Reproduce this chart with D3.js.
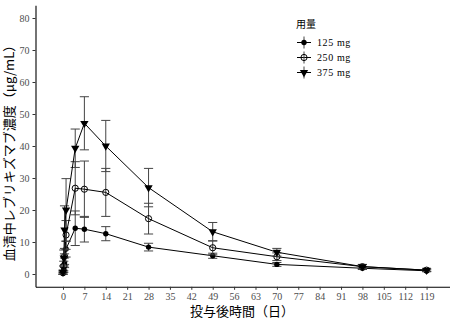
<!DOCTYPE html>
<html><head><meta charset="utf-8">
<script src="https://cdn.jsdelivr.net/npm/d3@7"></script>
<style>
body{margin:0;background:#fff;}
svg{display:block;}
.tick text{font-family:"Liberation Serif","DejaVu Serif",serif;font-size:10px;fill:#4d4d4d;}
</style></head>
<body><svg id="c" width="452" height="323"></svg>
<script>
const times = [0, 0.25, 0.5, 1, 4, 7, 14, 28, 49, 70, 98, 119];
const mean125 = [0.2, 1.5, 3.5, 7.8, 14.3, 14.0, 12.6, 8.4, 5.7, 3.0, 1.8, 1.0];
const sd125   = [0.3, 1.0, 1.5, 2.5, 5.4, 4.0, 2.2, 1.2, 0.8, 0.6, 0.4, 0.3];
const mean250 = [0.4, 2.5, 5.5, 12.2, 26.8, 26.5, 25.5, 17.3, 8.2, 5.4, 2.3, 1.2];
const sd250   = [0.5, 1.5, 2.5, 4.5, 8.3, 8.8, 7.5, 4.8, 2.2, 1.2, 0.6, 0.4];
const mean375 = [0.6, 5.0, 13.8, 20.0, 39.3, 47.1, 40.0, 27.0, 13.2, 6.8, 2.3, 1.2];
const sd375   = [0.6, 2.5, 7.5, 9.8, 6.0, 8.3, 8.0, 6.0, 2.9, 1.2, 0.7, 0.4];
const doseLabels = ["125 mg", "250 mg", "375 mg"];
const xTicks = d3.range(0, 120, 7);
const yTicks = [0, 10, 20, 30, 40, 50, 60, 70, 80];
const xTitle = "投与後時間（日）";
const yTitle = "血清中レブリキズマブ濃度（μg/mL）";
const legendTitle = "用量";

const svg = d3.select("#c");
const x = d3.scaleLinear().domain([-9, 126.5]).range([35.5, 449.5]);
const y = d3.scaleLinear().domain([-4, 84]).range([286.8, 5.2]);

const series = [
  {label: doseLabels[0], mean: mean125, sd: sd125, shape: "dot"},
  {label: doseLabels[1], mean: mean250, sd: sd250, shape: "open"},
  {label: doseLabels[2], mean: mean375, sd: sd375, shape: "tri"}
];

// axes
const xa = svg.append("g").attr("transform", `translate(0,${y.range()[0]})`)
  .call(d3.axisBottom(x).tickValues(xTicks).tickSize(3).tickPadding(3).tickSizeOuter(0));
const ya = svg.append("g").attr("transform", `translate(${x.range()[0]},0)`)
  .call(d3.axisLeft(y).tickValues(yTicks).tickSize(3).tickPadding(3).tickSizeOuter(0));
[xa, ya].forEach(a => {
  a.select(".domain").attr("stroke", "#000").attr("stroke-width", 1.1);
  a.selectAll(".tick line").attr("stroke", "#333");
});

const tri = d3.symbol().type(d3.symbolTriangle).size(30);
function marker(g, shape, cx, cy) {
  if (shape === "dot") g.append("circle").attr("cx", cx).attr("cy", cy).attr("r", 2.7).attr("fill", "#000");
  else if (shape === "open") g.append("circle").attr("cx", cx).attr("cy", cy).attr("r", 3.1).attr("fill", "none").attr("stroke", "#000").attr("stroke-width", 1);
  else g.append("path").attr("d", tri()).attr("transform", `translate(${cx},${cy}) rotate(180)`).attr("fill", "#000");
}

const line = d3.line().x(d => x(d.t)).y(d => y(d.m));
const capW = 1.5;
series.forEach(s => {
  const pts = times.map((t, i) => ({t, m: s.mean[i], sd: s.sd[i]}));
  const g = svg.append("g");
  pts.forEach(p => {
    const eg = g.append("g").attr("stroke", "#444").attr("stroke-width", 1);
    eg.append("line").attr("x1", x(p.t)).attr("x2", x(p.t)).attr("y1", y(p.m - p.sd)).attr("y2", y(p.m + p.sd));
    eg.append("line").attr("x1", x(p.t - capW)).attr("x2", x(p.t + capW)).attr("y1", y(p.m - p.sd)).attr("y2", y(p.m - p.sd));
    eg.append("line").attr("x1", x(p.t - capW)).attr("x2", x(p.t + capW)).attr("y1", y(p.m + p.sd)).attr("y2", y(p.m + p.sd));
  });
  g.append("path").datum(pts).attr("d", line).attr("fill", "none").attr("stroke", "#000").attr("stroke-width", 1);
  pts.forEach(p => marker(g, s.shape, x(p.t), y(p.m)));
});

// titles
svg.append("text").attr("x", 242).attr("y", 316).attr("text-anchor", "middle")
  .style("font-family", "'Noto Sans CJK JP'").style("font-size", "13px").text(xTitle);
svg.append("text").attr("transform", "translate(14,150) rotate(-90)").attr("text-anchor", "middle")
  .style("font-family", "'Noto Sans CJK JP'").style("font-size", "13px").text(yTitle);

// legend
const lg = svg.append("g");
lg.append("text").attr("x", 296).attr("y", 28).style("font-family", "'Noto Sans CJK JP'").style("font-size", "10px").text(legendTitle);
series.forEach((s, i) => {
  const cy = 42.5 + i * 15;
  const cx = 304;
  lg.append("line").attr("x1", cx - 7).attr("x2", cx + 7).attr("y1", cy).attr("y2", cy).attr("stroke", "#000");
  lg.append("line").attr("x1", cx).attr("x2", cx).attr("y1", cy - 6).attr("y2", cy + 6).attr("stroke", "#444");
  marker(lg, s.shape, cx, cy);
  lg.append("text").attr("x", 317).attr("y", cy + 3.5).style("font-family", "'Liberation Serif',serif").style("font-size", "10px")
    .style("letter-spacing", "0.6px").text(s.label);
});
</script></body></html>
